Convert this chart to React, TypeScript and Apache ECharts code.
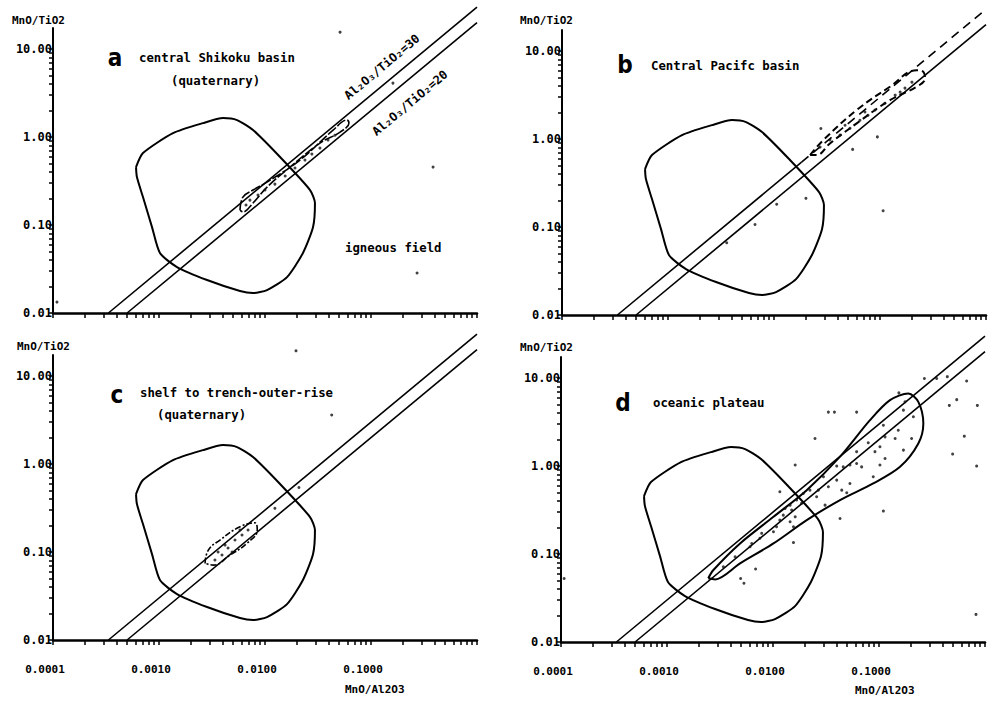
import React, { useEffect, useRef } from "react";
import * as echarts from "echarts";

// Al2O3/TiO2 reference ratios drawn as straight lines (MnO/TiO2 = r * MnO/Al2O3)
const ratioLines = [30, 20];

// axis domains (MnO/Al2O3 on x, MnO/TiO2 on y)
const xDomain = [0.0001, 1];
const yDomain = [0.01, 17.4];
const xTickLabels = ["0.0001", "0.0010", "0.0100", "0.1000"];
const yTickLabels = ["0.01", "0.10", "1.00", "10.00"];

// igneous field outline [MnO/Al2O3, MnO/TiO2]
const igneousField: number[][] = [
  [0.000607, 0.456], [0.000706, 0.658], [0.001355, 1.109], [0.0026, 1.442],
  [0.00402, 1.644], [0.00545, 1.56], [0.00771, 1.202], [0.01387, 0.593],
  [0.0266, 0.25], [0.0296, 0.178], [0.0284, 0.0948], [0.0228, 0.0481],
  [0.01614, 0.0256], [0.01045, 0.01824], [0.00771, 0.01687], [0.00581, 0.01778],
  [0.00284, 0.0237], [0.001479, 0.0333], [0.001021, 0.0481], [0.000859, 0.0948],
  [0.000706, 0.208], [0.000619, 0.351],
];

// a: central Shikoku basin
const envelopeA: number[][] = [
  [0.00581, 0.148], [0.00619, 0.208], [0.00771, 0.25], [0.01045, 0.308],
  [0.0214, 0.548], [0.0439, 1.2], [0.0594, 1.56], [0.0619, 1.44],
  [0.0511, 1.14], [0.033, 0.855], [0.0172, 0.456], [0.01045, 0.27],
  [0.00771, 0.178], [0.00619, 0.141],
];
const samplesA: number[][] = [
  [0.00721, 0.192], [0.00859, 0.219], [0.01, 0.25], [0.0124, 0.292],
  [0.0155, 0.361], [0.0192, 0.445], [0.0238, 0.548], [0.0277, 0.641],
  [0.033, 0.75], [0.0393, 0.925], [0.0457, 1.05], [0.00662, 0.169],
  [0.0511, 15.6], [0.161, 4.11], [0.385, 0.456], [0.272, 0.0285], [0.000109, 0.0133],
];

// b: Central Pacific basin
const envelopeB: number[][] = [
  [0.0219, 0.658], [0.0292, 0.975], [0.0603, 2.14], [0.124, 3.94],
  [0.222, 6.08], [0.256, 5.82], [0.266, 4.89], [0.222, 3.94],
  [0.124, 2.77], [0.0603, 1.51], [0.0337, 0.893], [0.0253, 0.658],
];
const samplesB: number[][] = [
  [0.0272, 0.811], [0.0337, 0.975], [0.042, 1.11], [0.0521, 1.33],
  [0.0647, 1.64], [0.0771, 1.87], [0.0898, 2.14], [0.111, 2.56],
  [0.139, 3.16], [0.172, 3.8], [0.2, 4.44], [0.155, 3.42],
  [0.0721, 2.03], [0.0468, 1.44],
  [0.00358, 0.0664], [0.00662, 0.107], [0.0106, 0.182], [0.02, 0.212],
  [0.107, 0.153], [0.0944, 1.06], [0.0552, 0.764], [0.0277, 1.32],
];

// c: shelf to trench-outer-rise
const envelopeC: number[][] = [
  [0.00272, 0.0743], [0.00292, 0.105], [0.00376, 0.137], [0.00581, 0.194],
  [0.00805, 0.215], [0.00845, 0.178], [0.00671, 0.125], [0.00468, 0.0925],
  [0.00325, 0.0711],
];
const samplesC: number[][] = [
  [0.00337, 0.0811], [0.00393, 0.0925], [0.00448, 0.111], [0.00521, 0.137],
  [0.00607, 0.156], [0.00692, 0.178], [0.0042, 0.12], [0.00361, 0.1],
  [0.00489, 0.1], [0.00581, 0.178],
  [0.0124, 0.314], [0.0209, 0.543], [0.0196, 19.4], [0.0426, 3.61],
];

// d: oceanic plateau
const envelopeD: number[][] = [
  [0.00245, 0.053], [0.00274, 0.0658], [0.00489, 0.132], [0.0101, 0.265],
  [0.0208, 0.533], [0.0429, 1.28], [0.0822, 3.33], [0.127, 5.62],
  [0.189, 6.7], [0.235, 5.38], [0.262, 3.05], [0.235, 1.81],
  [0.158, 0.982], [0.0883, 0.635], [0.0429, 0.411], [0.0208, 0.243],
  [0.0101, 0.132], [0.00489, 0.0783], [0.00284, 0.0515],
];
const samplesD: number[][] = [
  [0.176, 5.38], [0.17, 4.33], [0.211, 3.64], [0.11, 2.92], [0.152, 2.56],
  [0.114, 2.15], [0.142, 2.06], [0.203, 2.06], [0.0792, 1.84], [0.102, 1.66],
  [0.0916, 1.46], [0.0615, 1.46], [0.17, 1.52], [0.114, 1.22], [0.0615, 1.07],
  [0.0532, 1.03], [0.046, 0.98], [0.0399, 1.0], [0.0686, 0.98], [0.102, 1.03],
  [0.0883, 0.757], [0.0299, 0.757], [0.0399, 0.693], [0.0532, 0.635], [0.0333, 0.582],
  [0.0445, 0.533], [0.0496, 0.498], [0.0268, 0.533], [0.0223, 0.533], [0.0193, 0.489],
  [0.0258, 0.449], [0.031, 0.36], [0.0186, 0.377], [0.0167, 0.411], [0.0145, 0.36],
  [0.013, 0.33], [0.015, 0.316], [0.0125, 0.277], [0.0116, 0.243], [0.0162, 0.265],
  [0.0145, 0.233], [0.0156, 0.204], [0.0108, 0.204], [0.0101, 0.179], [0.00782, 0.172],
  [0.00753, 0.151], [0.0063, 0.132], [0.00607, 0.121], [0.00439, 0.0933], [0.0034, 0.0718],
  [0.268, 9.9], [0.35, 9.9], [0.441, 10.4], [0.671, 9.3], [0.154, 6.8],
  [0.461, 4.9], [0.541, 5.7], [0.847, 4.9], [0.638, 2.19], [0.495, 1.37],
  [0.834, 1.0], [0.822, 0.0206], [0.0333, 4.11], [0.038, 4.11], [0.0615, 4.11],
  [0.0249, 2.06], [0.0162, 1.03], [0.0116, 0.511], [0.0429, 0.254], [0.11, 0.308],
  [0.0156, 0.135], [0.00685, 0.0676], [0.00495, 0.0528], [0.00532, 0.0465], [0.000107, 0.0528],
];

const lg = Math.log10;
const toLog = (pts: number[][]) => pts.map(([x, y]) => [lg(x), lg(y)]);
const closeLoop = (pts: number[][]) => [...toLog(pts), toLog([pts[0]])[0]];

// panel frames in page pixels
const frames = [
  { left: 53, top: 28 },
  { left: 562, top: 30 },
  { left: 53, top: 355 },
  { left: 561, top: 357 },
];
const frameW = 424;
const frameH = 285;

const FONT = "'DejaVu Sans Mono', 'Liberation Mono', monospace";
const LETTER_FONT = "'Liberation Sans Narrow', 'DejaVu Sans Condensed', sans-serif";

function buildXTicks(): number[] {
  const out: number[] = [];
  for (let e = lg(xDomain[0]); e < lg(xDomain[1]); e++) {
    for (let k = 1; k < 10; k++) out.push(e + lg(k));
  }
  out.push(lg(xDomain[1]));
  return out;
}
function buildYTicks(): number[] {
  const out: number[] = [];
  for (let e = lg(yDomain[0]); e < 1; e++) {
    for (let k = 1; k < 10; k++) out.push(e + lg(k));
  }
  out.push(1);
  return out;
}

function ratioSeries(panel: number, r: number, dashedFrom?: number): any[] {
  const x0 = yDomain[0] / r;
  const x1 = xDomain[1];
  const base = {
    type: "line",
    xAxisIndex: panel,
    yAxisIndex: panel,
    symbol: "none",
    clip: false,
    silent: true,
    z: 3,
  };
  if (dashedFrom === undefined) {
    return [
      {
        ...base,
        data: [[lg(x0), lg(r * x0)], [lg(x1), lg(r * x1)]],
        lineStyle: { color: "#000", width: 1.6 },
      },
    ];
  }
  return [
    {
      ...base,
      data: [[lg(x0), lg(r * x0)], [lg(dashedFrom), lg(r * dashedFrom)]],
      lineStyle: { color: "#000", width: 1.6 },
    },
    {
      ...base,
      data: [[lg(dashedFrom), lg(r * dashedFrom)], [lg(x1), lg(r * x1)]],
      lineStyle: { color: "#000", width: 1.6, type: [9, 6] },
    },
  ];
}

function outlineSeries(panel: number, pts: number[][], lineStyle: any, smooth = 0.35) {
  return {
    type: "line",
    xAxisIndex: panel,
    yAxisIndex: panel,
    symbol: "none",
    smooth,
    clip: false,
    silent: true,
    data: closeLoop(pts),
    lineStyle,
    z: 4,
  };
}

function scatterSeries(panel: number, pts: number[][]) {
  return {
    type: "scatter",
    xAxisIndex: panel,
    yAxisIndex: panel,
    symbol: "circle",
    symbolSize: 3,
    clip: false,
    silent: true,
    itemStyle: { color: "#111" },
    data: toLog(pts),
    z: 5,
  };
}

function label(text: string, x: number, y: number, opts: any = {}) {
  return {
    type: "text",
    x,
    y,
    rotation: opts.rotation || 0,
    scaleX: opts.scaleX || 1,
    silent: true,
    z: 10,
    style: {
      text,
      fill: "#000",
      fontFamily: opts.fontFamily || FONT,
      fontSize: opts.fontSize || 13,
      fontWeight: "bold",
      align: opts.align || "left",
      verticalAlign: "middle",
    },
  };
}

export default function App() {
  const ref = useRef<HTMLDivElement>(null);

  useEffect(() => {
    document.body.style.margin = "0";
    if (!ref.current) return;
    const chart = echarts.init(ref.current, null, { renderer: "svg" });

    const xTicks = buildXTicks();
    const yTicks = buildYTicks();
    const xLabelVals = xTickLabels.map((_, i) => lg(xDomain[0]) + i);
    const yLabelVals = yTickLabels.map((_, i) => lg(yDomain[0]) + i);

    const grids = frames.map((f) => ({
      left: f.left,
      top: f.top,
      width: frameW,
      height: frameH,
      containLabel: false,
    }));

    const xAxes = frames.map((_, i) => ({
      type: "value",
      gridIndex: i,
      min: lg(xDomain[0]),
      max: lg(xDomain[1]),
      splitLine: { show: false },
      axisLine: { onZero: false, lineStyle: { color: "#000", width: 2.5 } },
      axisTick: {
        customValues: xTicks,
        length: 5,
        lineStyle: { color: "#000", width: 1.5 },
      },
      axisLabel:
        i >= 2
          ? {
              customValues: xLabelVals,
              formatter: (v: number) => xTickLabels[Math.round(v - lg(xDomain[0]))],
              color: "#000",
              fontFamily: FONT,
              fontWeight: "bold",
              fontSize: 11,
              margin: 24,
              padding: [0, 16, 0, 0],
            }
          : { show: false },
    }));

    const yAxes = frames.map((_, i) => ({
      type: "value",
      gridIndex: i,
      min: lg(yDomain[0]),
      max: lg(yDomain[1]),
      splitLine: { show: false },
      axisLine: { onZero: false, lineStyle: { color: "#000", width: 2 } },
      axisTick: {
        customValues: yTicks,
        length: 4,
        lineStyle: { color: "#000", width: 1.5 },
      },
      axisLabel: {
        customValues: yLabelVals,
        formatter: (v: number) => yTickLabels[Math.round(v - lg(yDomain[0]))],
        color: "#000",
        fontFamily: FONT,
        fontWeight: "bold",
        fontSize: 12,
        margin: 1,
      },
    }));

    const fieldStyle = { color: "#000", width: 2 };
    const series: any[] = [];
    for (let p = 0; p < 4; p++) {
      series.push(...ratioSeries(p, ratioLines[0], p === 1 ? 0.0182 : undefined));
      series.push(...ratioSeries(p, ratioLines[1]));
      series.push(outlineSeries(p, igneousField, fieldStyle, 0.22));
    }
    series.push(outlineSeries(0, envelopeA, { color: "#000", width: 1.6, type: [10, 2] }, 0.4));
    series.push(outlineSeries(1, envelopeB, { color: "#000", width: 2, type: [7, 4] }, 0.4));
    series.push(outlineSeries(2, envelopeC, { color: "#000", width: 1.6, type: [6, 2, 2, 2] }, 0.45));
    series.push(outlineSeries(3, envelopeD, { color: "#000", width: 2 }, 0.3));
    series.push(scatterSeries(0, samplesA));
    series.push(scatterSeries(1, samplesB));
    series.push(scatterSeries(2, samplesC));
    series.push(scatterSeries(3, samplesD));

    const rot = (40 * Math.PI) / 180;
    const sx = 0.95;
    const graphics = [
      // a
      label("MnO/TiO2", 12, 20, { fontSize: 11 }),
      label("a", 115, 58, { fontFamily: LETTER_FONT, fontSize: 24, align: "center" }),
      label("central Shikoku basin", 139, 57, { scaleX: sx }),
      label("(quaternary)", 171, 80, { scaleX: sx }),
      label("Al\u2082O\u2083/TiO\u2082=30", 382, 67, { rotation: rot, align: "center", fontSize: 12 }),
      label("Al\u2082O\u2083/TiO\u2082=20", 410, 103, { rotation: rot, align: "center", fontSize: 12 }),
      label("igneous field", 345, 247, { scaleX: sx }),
      // b
      label("MnO/TiO2", 520, 20, { fontSize: 11 }),
      label("b", 625, 65, { fontFamily: LETTER_FONT, fontSize: 24, align: "center" }),
      label("Central Pacifc basin", 651, 65, { scaleX: sx }),
      // c
      label("MnO/TiO2", 17, 346, { fontSize: 11 }),
      label("c", 117, 395, { fontFamily: LETTER_FONT, fontSize: 24, align: "center" }),
      label("shelf to trench-outer-rise", 140, 392, { scaleX: sx }),
      label("(quaternary)", 157, 414, { scaleX: sx }),
      label("MnO/Al2O3", 345, 689, { fontSize: 11 }),
      // d
      label("MnO/TiO2", 520, 347, { fontSize: 11 }),
      label("d", 623, 403, { fontFamily: LETTER_FONT, fontSize: 24, align: "center" }),
      label("oceanic plateau", 653, 402, { scaleX: sx }),
      label("MnO/Al2O3", 855, 690, { fontSize: 11 }),
    ];

    chart.setOption({
      animation: false,
      backgroundColor: "#fff",
      grid: grids,
      xAxis: xAxes,
      yAxis: yAxes,
      series,
      graphic: graphics,
    });

    return () => chart.dispose();
  }, []);

  return <div ref={ref} style={{ width: 993, height: 702 }} />;
}
